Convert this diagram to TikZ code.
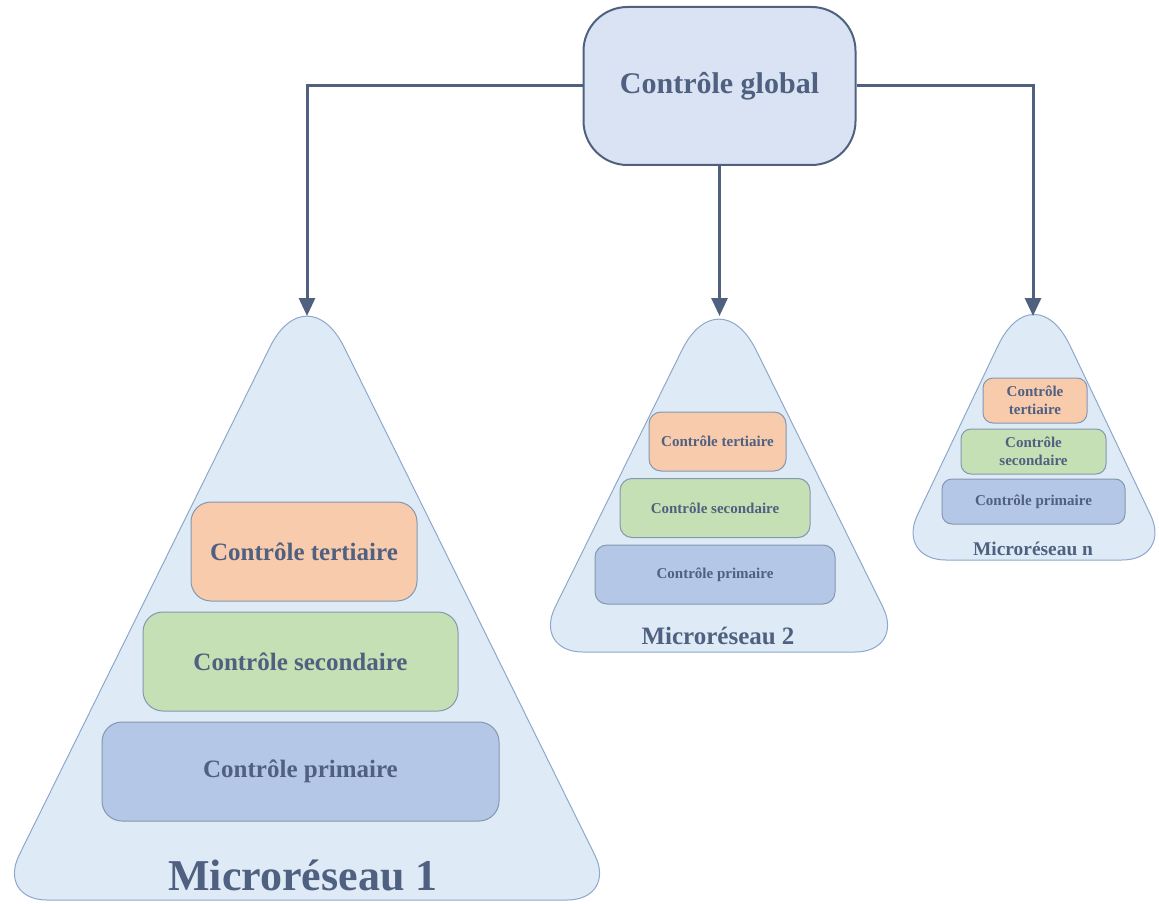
\documentclass[tikz,border=0pt]{standalone}
\usepackage{fontspec}
\setmainfont{Liberation Serif}
\usetikzlibrary{positioning,calc,arrows.meta}
\definecolor{inkblue}{HTML}{4F6080}
\definecolor{linkblue}{HTML}{50617F}
\definecolor{globfill}{HTML}{DAE3F3}
\definecolor{pyrfill}{HTML}{DEEBF7}
\definecolor{pyrline}{HTML}{8EA7CC}
\definecolor{tertfill}{HTML}{F8CBAD}
\definecolor{secofill}{HTML}{C5E0B4}
\definecolor{primfill}{HTML}{B4C7E7}
\definecolor{boxline}{HTML}{8497B0}
\tikzset{
glob/.style={draw=linkblue, line width=1pt, fill=globfill, rounded corners=22pt, minimum width=136pt, minimum height=79pt, text=inkblue, font=\bfseries\fontsize{15}{18}\selectfont},
pyr/.style={draw=pyrline, line width=0.5pt, fill=pyrfill},
link/.style={draw=linkblue, line width=1.5pt, -{Triangle[width=8pt,length=9pt]}},
ctrl/.style={draw=boxline, line width=0.5pt, text=inkblue, align=center, inner sep=0pt},
tert/.style={ctrl, fill=tertfill},
seco/.style={ctrl, fill=secofill},
prim/.style={ctrl, fill=primfill},
big/.style={rounded corners=10pt, minimum height=49.5pt, font=\bfseries\fontsize{12.5}{15}\selectfont},
mid/.style={rounded corners=6pt, minimum height=29.5pt, font=\bfseries\fontsize{7.5}{9}\selectfont},
small/.style={rounded corners=5pt, minimum height=22.5pt, font=\bfseries\fontsize{7.5}{9}\selectfont},
mrlabel/.style={text=inkblue, inner sep=0pt}
}

\begin{document}
\begin{tikzpicture}[x=0.5pt, y=-0.5pt]
\useasboundingbox (0,0) rectangle (1159,903);

% pyramides (sommet, coin gauche, coin droit)
\coordinate (v1) at (307,272); \coordinate (l1) at (-3,900); \coordinate (r1) at (617,900);
\coordinate (v2) at (719,275); \coordinate (l2) at (533,652); \coordinate (r2) at (905,652);
\coordinate (vn) at (1034,270); \coordinate (ln) at (896,560); \coordinate (rn) at (1172,560);

\foreach \p in {1,2,n} {
  \draw[pyr, rounded corners=25pt] ($(l\p)!0.5!(r\p)$) -- (l\p) -- ($(l\p)!0.45!(v\p)$)
    [rounded corners=42pt] -- (v\p) -- ($(v\p)!0.55!(r\p)$)
    [rounded corners=25pt] -- (r\p) -- cycle;
}

\node[glob] (global) at (719.5,86) {Contrôle global};

% microreseau 1
\node[tert, big, minimum width=113pt] (ter1) at (304,551.5) {Contrôle tertiaire};
\node[seco, big, minimum width=157.5pt] (sec1) at (300.5,661.5) {Contrôle secondaire};
\node[prim, big, minimum width=198.5pt] (pri1) at (300.5,771.5) {Contrôle primaire};
\node[mrlabel, font=\bfseries\fontsize{22}{26}\selectfont] (mr1) at (303,875) {Microréseau 1};

% microreseau 2
\node[tert, mid, minimum width=68.5pt] (ter2) at (717.5,441.5) {Contrôle tertiaire};
\node[seco, mid, minimum width=95pt] (sec2) at (715,508) {Contrôle secondaire};
\node[prim, mid, minimum width=120pt] (pri2) at (715,574.5) {Contrôle primaire};
\node[mrlabel, font=\bfseries\fontsize{12.5}{15}\selectfont] (mr2) at (718,636) {Microréseau 2};

% microreseau n
\node[tert, small, minimum width=52pt] (tern) at (1035,400.5) {Contrôle\\tertiaire};
\node[seco, small, minimum width=72.5pt] (secn) at (1033.5,451.5) {Contrôle\\secondaire};
\node[prim, small, minimum width=91.5pt] (prin) at (1033.5,501.5) {Contrôle primaire};
\node[mrlabel, font=\bfseries\fontsize{9.7}{12}\selectfont] (mrn) at (1033,549) {Microréseau n};

% liaisons
\coordinate (top1) at (307,316);
\coordinate (top2) at (719.5,316);
\coordinate (topn) at (1033,316);
\draw[link] (global.west) -| (top1);
\draw[link] (global.south) -- (top2);
\draw[link] (global.east) -| (topn);
\end{tikzpicture}
\end{document}
